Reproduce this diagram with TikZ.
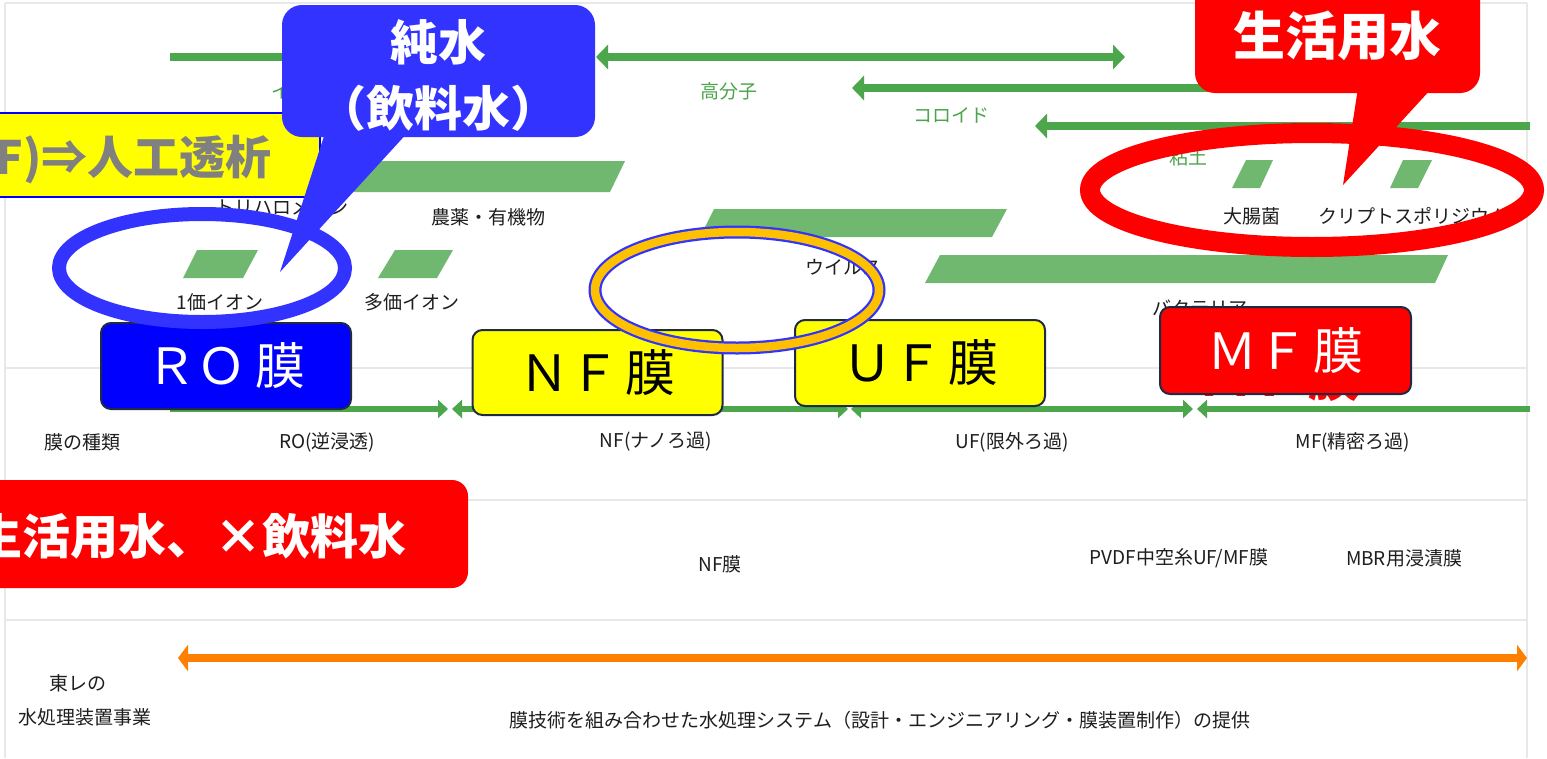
\documentclass[tikz,border=0pt]{standalone}
\usepackage{fontspec}
\setmainfont{Noto Sans CJK JP}
\usetikzlibrary{arrows.meta}
\newcommand\myfs[1]{\fontsize{#1}{#1}\selectfont}
\definecolor{arrc}{RGB}{76,166,76}
\definecolor{barc}{RGB}{112,184,112}
\definecolor{greent}{RGB}{76,164,76}
\definecolor{gridc}{RGB}{232,232,232}
\definecolor{labc}{RGB}{30,30,30}
\definecolor{bubblue}{RGB}{51,51,255}
\definecolor{robl}{RGB}{0,0,255}
\definecolor{navy}{RGB}{31,42,68}
\definecolor{orng}{RGB}{255,192,0}
\definecolor{oarr}{RGB}{255,128,0}
\definecolor{grayt}{RGB}{128,128,128}
\definecolor{yel}{RGB}{255,255,0}
\definecolor{rd}{RGB}{255,0,0}
\tikzset{
  grid/.style={draw=gridc, line width=2pt},
  lbl/.style={font=\myfs{19}, text=labc, inner sep=0pt},
  glbl/.style={font=\myfs{19}, text=greent, inner sep=0pt},
  bar/.style={fill=barc, draw=none},
  garrow/.style={draw=arrc, line width=8pt},
  gboth/.style={arrows={Triangle[length=12pt,width=24pt]-Triangle[length=12pt,width=24pt]}},
  gleft/.style={arrows={Triangle[length=12pt,width=24pt]-}},
  marrow/.style={draw=arrc, line width=6pt},
  mboth/.style={arrows={Triangle[length=10pt,width=18pt]-Triangle[length=10pt,width=18pt]}},
  mleft/.style={arrows={Triangle[length=10pt,width=18pt]-}},
  mright/.style={arrows={-Triangle[length=10pt,width=18pt]}},
  oarrow/.style={draw=oarr, line width=8pt, arrows={Triangle[length=10pt,width=26pt]-Triangle[length=10pt,width=26pt]}},
  membox/.style={draw=navy, line width=2pt, rounded corners=10pt, minimum width=250pt, minimum height=86pt, inner sep=0pt, font=\myfs{50}},
}
\begin{document}
\begin{tikzpicture}[x=1pt,y=-1pt]
\useasboundingbox (0,0) rectangle (1547,758);
\clip (0,0) rectangle (1547,758);
\fill[white] (0,0) rectangle (1547,758);
% grid
\draw[grid] (5,3) -- (1527,3);
\draw[grid] (5,3) -- (5,758);
\draw[grid] (1527,3) -- (1527,758);
\draw[grid] (5,368) -- (1527,368);
\draw[grid] (5,500) -- (1527,500);
\draw[grid] (5,620) -- (1527,620);

% size classes arrows
\coordinate (ionA) at (170,57);   \coordinate (ionB) at (460,57);
\coordinate (polA) at (596,57);   \coordinate (polB) at (1125,57);
\coordinate (colA) at (852,88);   \coordinate (colB) at (1400,88);
\coordinate (clyA) at (1035,126); \coordinate (clyB) at (1530,126);
\draw[garrow] (ionA) -- (ionB);
\draw[garrow, gboth] (polA) -- (polB);
\draw[garrow, gleft] (colA) -- (colB);
\draw[garrow, gleft] (clyA) -- (clyB);
\node[glbl] (t-ion) at (300,91) {イオン};
\node[glbl] (t-kobun) at (729,91) {高分子};
\node[glbl] (t-colloid) at (951,115) {コロイド};
\node[glbl] (t-clay) at (1188,157) {粘土};

% bars
\fill[bar] (330,161) -- (625,161) -- (610,192) -- (315,192) -- cycle;
\fill[bar] (197,250) -- (258,250) -- (243,278) -- (183,278) -- cycle;
\fill[bar] (395,250) -- (453,250) -- (437,278) -- (378,278) -- cycle;
\fill[bar] (714,209) -- (1007,209) -- (992,237) -- (700,237) -- cycle;
\fill[bar] (940,255) -- (1448,255) -- (1435,283) -- (925,283) -- cycle;
\fill[bar] (1246,160) -- (1273,160) -- (1260,188) -- (1232,188) -- cycle;
\fill[bar] (1403,160) -- (1432,160) -- (1418,188) -- (1390,188) -- cycle;

% substance labels
\node[lbl, anchor=west] (t-thm) at (215,207) {トリハロメタン};
\node[lbl] (t-agri) at (488,217) {農薬・有機物};
\node[lbl] (t-ion1) at (220,302) {1価イオン};
\node[lbl] (t-ionm) at (412,302) {多価イオン};
\node[lbl] (t-virus) at (843,267) {ウイルス};
\node[lbl] (t-ecoli) at (1252,216) {大腸菌};
\node[lbl] (t-crypto) at (1413,216) {クリプトスポリジウム};
\node[lbl] (t-bact) at (1200,308) {バクテリア};

% membrane type arrows
\coordinate (roA) at (170,409); \coordinate (roB) at (448,409);
\coordinate (nfA) at (452,409); \coordinate (nfB) at (848,409);
\coordinate (ufA) at (851,409); \coordinate (ufB) at (1193,409);
\coordinate (mfA) at (1197,409); \coordinate (mfB) at (1530,409);
\draw[marrow, mright] (roA) -- (roB);
\draw[marrow, mboth] (nfA) -- (nfB);
\draw[marrow, mboth] (ufA) -- (ufB);
\draw[marrow, mleft] (mfA) -- (mfB);
\node[lbl] (t-kind) at (82,442) {膜の種類};
\node[lbl] (t-ro) at (327,442) {RO(逆浸透)};
\node[lbl] (t-nf) at (656,442) {NF(ナノろ過)};
\node[lbl] (t-uf) at (1012,442) {UF(限外ろ過)};
\node[lbl] (t-mf) at (1353,442) {MF(精密ろ過)};

% products
\node[lbl] (p-nf) at (720,564) {NF膜};
\node[lbl] (p-pvdf) at (1179,558) {PVDF中空糸UF/MF膜};
\node[lbl] (p-mbr) at (1404,558) {MBR用浸漬膜};

% business
\coordinate (bzA) at (178,658); \coordinate (bzB) at (1527,658);
\draw[oarrow] (bzA) -- (bzB);
\node[lbl] (b-toray) at (78,683) {東レの};
\node[lbl] (b-biz) at (85,717) {水処理装置事業};
\node[lbl] (b-sys) at (880,720) {膜技術を組み合わせた水処理システム（設計・エンジニアリング・膜装置制作）の提供};

% yellow dialysis box
\node[fill=yel, draw=robl, line width=2pt, minimum width=340pt, minimum height=84pt, inner sep=0pt] (dial) at (150,155) {};
\node[font=\myfs{46}\bfseries, text=grayt, anchor=east, inner sep=0pt] (dialt) at (272,160) {F)⇒人工透析};

% pure water bubble
\fill[bubblue] (326,130) -- (410,130) -- (280,272) -- cycle;
\node[fill=bubblue, rounded corners=20pt, minimum width=313pt, minimum height=132pt, inner sep=0pt] (pure) at (438.5,71) {};
\node[font=\myfs{48}\bfseries, text=white, inner sep=0pt] (pure1) at (438,42) {純水};
\node[font=\myfs{48}\bfseries, text=white, inner sep=0pt] (pure2) at (438,108) {（飲料水）};

% membrane boxes
\node[membox, fill=robl, text=white] (ro) at (226,366) {ＲＯ\hspace{9pt}膜};
\node[membox, fill=yel, text=black, minimum height=85pt] (nf) at (597.5,372.5) {ＮＦ\hspace{6pt}膜};
\node[membox, fill=yel, text=black] (uf) at (920,363) {ＵＦ\hspace{6pt}膜};
\node[font=\myfs{52}\bfseries, text=rd, inner sep=0pt] (mfred) at (1280,377) {ＭＦ\hspace{6pt}膜};
\node[membox, fill=rd, text=white, minimum width=251pt, minimum height=87pt] (mf) at (1285.5,350.5) {ＭＦ\hspace{6pt}膜};

% highlight ellipses
\draw[bubblue, line width=14pt] (202,268) ellipse [x radius=143, y radius=54];
\draw[bubblue, line width=13pt] (737,290) ellipse [x radius=142, y radius=58];
\draw[orng, line width=8.5pt] (737,290) ellipse [x radius=142, y radius=58];
\draw[rd, line width=20pt] (1312,190) ellipse [x radius=222, y radius=57];

% domestic water bubble
\fill[rd] (1358,88) -- (1432,88) -- (1343,185) -- cycle;
\node[fill=rd, rounded corners=20pt, minimum width=285pt, minimum height=115pt, inner sep=0pt, text=white, font=\myfs{52}\bfseries] (dom) at (1337.5,35.5) {生活用水};

% red note box
\node[fill=rd, rounded corners=16pt, minimum width=490pt, minimum height=108pt, inner sep=0pt] (note) at (223,534) {};
\node[font=\myfs{48}\bfseries, text=white, anchor=east, inner sep=0pt] (notet) at (407,536) {生活用水、\makebox[48pt]{×}飲料水};
\end{tikzpicture}
\end{document}
